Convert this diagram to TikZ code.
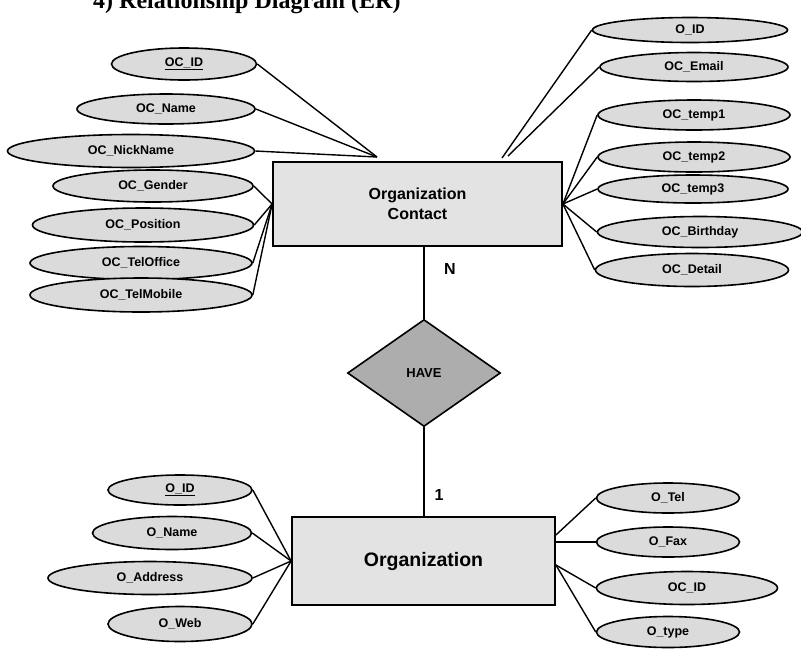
\documentclass[tikz,border=0pt]{standalone}
\usepackage{fontspec}
\setmainfont{Liberation Sans}
\newfontfamily\titlefont{Liberation Serif}
\usetikzlibrary{shapes.geometric}

\definecolor{attrfill}{gray}{0.86}
\definecolor{entfill}{gray}{0.89}
\definecolor{relfill}{gray}{0.68}

\tikzset{
  attr/.style={ellipse, draw=black, line width=1.6pt, fill=attrfill, inner sep=0pt,
    font=\bfseries\fontsize{12.5}{14}\selectfont},
  entity/.style={rectangle, draw=black, line width=1.8pt, fill=entfill, inner sep=0pt,
    align=center},
  relation/.style={diamond, draw=black, line width=1.6pt, fill=relfill, inner sep=0pt,
    font=\bfseries\fontsize{13}{15}\selectfont},
  conn/.style={draw=black, line width=1.4pt},
  relline/.style={draw=black, line width=2.6pt},
  card/.style={font=\bfseries\fontsize{16}{18}\selectfont, inner sep=0pt}
}

\begin{document}
\begin{tikzpicture}[x=1pt,y=-1pt]
\useasboundingbox (0,0) rectangle (801,649);
\clip (0,0) rectangle (801,649);
\fill[white] (0,0) rectangle (801,649);

% heading line, cut by the top edge
\node[anchor=base west, inner sep=0pt, font=\titlefont\bfseries\fontsize{24}{28}\selectfont]
  (title) at (93,8) {4) Relationship Diagram (ER)};

% entities and relationship
\node[entity, minimum width=289, minimum height=84,
  font=\bfseries\fontsize{16}{20}\selectfont] (oc) at (417.5,204) {Organization\\Contact};
\node[entity, minimum width=263, minimum height=88,
  font=\bfseries\fontsize{19.5}{22}\selectfont] (org) at (423.5,561) {Organization};
\node[relation, minimum width=153, minimum height=107] (have) at (424,373) {HAVE};

% attributes of Organization Contact (left)
\node[attr, minimum width=145, minimum height=32] (a1) at (184,64) {\underline{OC\_ID}};
\node[attr, minimum width=178, minimum height=30] (a2) at (166,109) {OC\_Name};
\node[attr, minimum width=247, minimum height=33] (a3) at (131,151) {OC\_NickName};
\node[attr, minimum width=200, minimum height=32] (a4) at (153,186) {OC\_Gender};
\node[attr, minimum width=221, minimum height=34] (a5) at (143,225) {OC\_Position};
\node[attr, minimum width=222, minimum height=33] (a6) at (141,263) {OC\_TelOffice};
\node[attr, minimum width=222, minimum height=34] (a7) at (141,295) {OC\_TelMobile};

% attributes of Organization Contact (right)
\node[attr, minimum width=195, minimum height=25] (b1) at (690,30) {O\_ID};
\node[attr, minimum width=188, minimum height=29] (b2) at (694,67) {OC\_Email};
\node[attr, minimum width=192, minimum height=30] (b3) at (694,115) {OC\_temp1};
\node[attr, minimum width=192, minimum height=30] (b4) at (694,157) {OC\_temp2};
\node[attr, minimum width=190, minimum height=28] (b5) at (693,189) {OC\_temp3};
\node[attr, minimum width=205, minimum height=31] (b6) at (700,232) {OC\_Birthday};
\node[attr, minimum width=193, minimum height=33] (b7) at (692,270) {OC\_Detail};

% attributes of Organization (left)
\node[attr, minimum width=144, minimum height=30] (c1) at (180,490) {\underline{O\_ID}};
\node[attr, minimum width=159, minimum height=33] (c2) at (172,533) {O\_Name};
\node[attr, minimum width=204, minimum height=33] (c3) at (150,578) {O\_Address};
\node[attr, minimum width=144, minimum height=35] (c4) at (180,624) {O\_Web};

% attributes of Organization (right)
\node[attr, minimum width=143, minimum height=30] (d1) at (668,498) {O\_Tel};
\node[attr, minimum width=143, minimum height=30] (d2) at (668,542) {O\_Fax};
\node[attr, minimum width=181, minimum height=33] (d3) at (687,588) {OC\_ID};
\node[attr, minimum width=143, minimum height=31] (d4) at (668,632) {O\_type};

% meeting points of the upper attribute lines
\coordinate (tl) at (377,157);
\coordinate (tr1) at (502,158);
\coordinate (tr2) at (508,156);

% attribute connectors
\foreach \n in {a1,a2,a3} \draw[conn] (\n.east) -- (tl);
\foreach \n in {a4,a5,a6,a7} \draw[conn] (\n.east) -- (oc.west);
\draw[conn] (b1.west) -- (tr1);
\draw[conn] (b2.west) -- (tr2);
\foreach \n in {b3,b4,b5,b6,b7} \draw[conn] (\n.west) -- (oc.east);
\foreach \n in {c1,c2,c3,c4} \draw[conn] (\n.east) -- (org.west);
\draw[conn] (d1.west) -- ([yshift=26pt]org.east);
\draw[conn] (d2.west) -- ([yshift=19pt]org.east);
\draw[conn] (d3.west) -- ([yshift=-4pt]org.east);
\draw[conn] (d4.west) -- ([yshift=-4pt]org.east);

% relationship lines and cardinalities
\draw[relline] (have.north) -- (have.north |- oc.south);
\draw[relline] (have.south) -- (have.south |- org.north);
\node[card] (cardN) at (450,269) {N};
\node[card] (card1) at (439,495) {1};
\end{tikzpicture}
\end{document}
